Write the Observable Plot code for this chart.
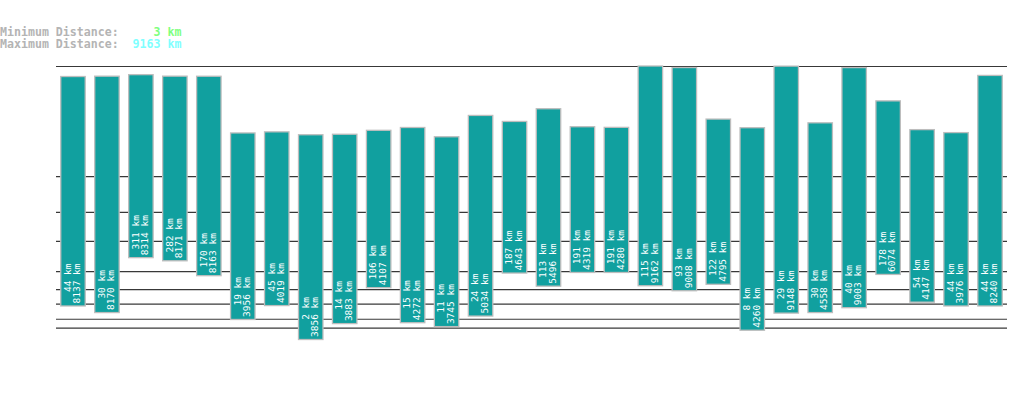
<!DOCTYPE html>
<html>
<head>
<meta charset="utf-8">
<script src="https://cdn.jsdelivr.net/npm/d3@7"></script>
<script src="https://cdn.jsdelivr.net/npm/@observablehq/plot@0.6"></script>
<style>
  html, body { margin: 0; padding: 0; background: #fff; }
  #wrap { position: relative; width: 1019px; height: 402px; }
  #header {
    position: absolute; left: 0; top: 26px;
    font-family: "DejaVu Sans Mono", "Liberation Mono", monospace;
    font-size: 11.6px; line-height: 12px; font-weight: bold;
    color: #b4b4b4; white-space: pre;
  }
  #header .min { color: #80ff80; }
  #header .max { color: #80ffff; }
</style>
</head>
<body>
<div id="wrap">
  <div id="header"></div>
  <div id="chart"></div>
</div>
<script>
// Minimum and maximum distance (km) for each bar, left to right
const minDistances = [44, 30, 311, 282, 170, 19, 45, 2, 14, 106, 15, 11, 24, 187, 113, 191, 191, 115, 93, 122, 8, 29, 30, 40, 178, 54, 44, 44];
const maxDistances = [8137, 8170, 8314, 8171, 8163, 3956, 4019, 3856, 3883, 4107, 4272, 3745, 5034, 4643, 5496, 4319, 4280, 9162, 9008, 4795, 4260, 9148, 4558, 9003, 6074, 4147, 3976, 8240];
// Header summary values
const overallMin = 3;
const overallMax = 9163;
// Reference lines (km)
const gridValues = [10, 20, 50, 100, 200, 500, 1000, 2000, overallMax];

const data = minDistances.map((mn, i) => ({
  key: String(i),
  min: mn,
  max: maxDistances[i]
}));

function labelOf(d) {
  const a = `${d.min} km`, b = `${d.max} km`;
  const n = Math.max(a.length, b.length);
  const pad = s => "\u00a0".repeat(n - s.length) + s;
  return pad(a) + "\n" + pad(b);
}

const header = document.getElementById("header");
header.innerHTML =
  `Minimum Distance: <span class="min">${String(overallMin).padStart(5, " ")} km</span>\n` +
  `Maximum Distance: <span class="max">${String(overallMax).padStart(5, " ")} km</span>`;

const mono = "DejaVu Sans Mono, Liberation Mono, monospace";

const chart = Plot.plot({
  width: 1019,
  height: 402,
  marginLeft: 56,
  marginRight: 12,
  marginTop: 66,
  marginBottom: 62.5,
  style: { background: "transparent" },
  x: { type: "band", domain: data.map(d => d.key), paddingInner: 0.28, paddingOuter: 0.14, round: false, axis: null },
  y: { type: "pow", exponent: 0.3, domain: [overallMin, overallMax], clamp: true, axis: null },
  marks: [
    Plot.ruleY(gridValues, { stroke: "#383838", strokeWidth: 1.2 }),
    Plot.barY(data, {
      x: "key", y1: "min", y2: "max",
      fill: "#11a09f", stroke: "#bdbdbd", strokeWidth: 1.3
    }),
    Plot.text(data, {
      x: "key", y: "min",
      text: labelOf,
      rotate: -90,
      textAnchor: "start",
      lineAnchor: "middle",
      fill: "white",
      fontFamily: mono,
      fontSize: 9.5,
      dx: -1, dy: -3
    })
  ]
});
document.getElementById("chart").appendChild(chart);
</script>
</body>
</html>
